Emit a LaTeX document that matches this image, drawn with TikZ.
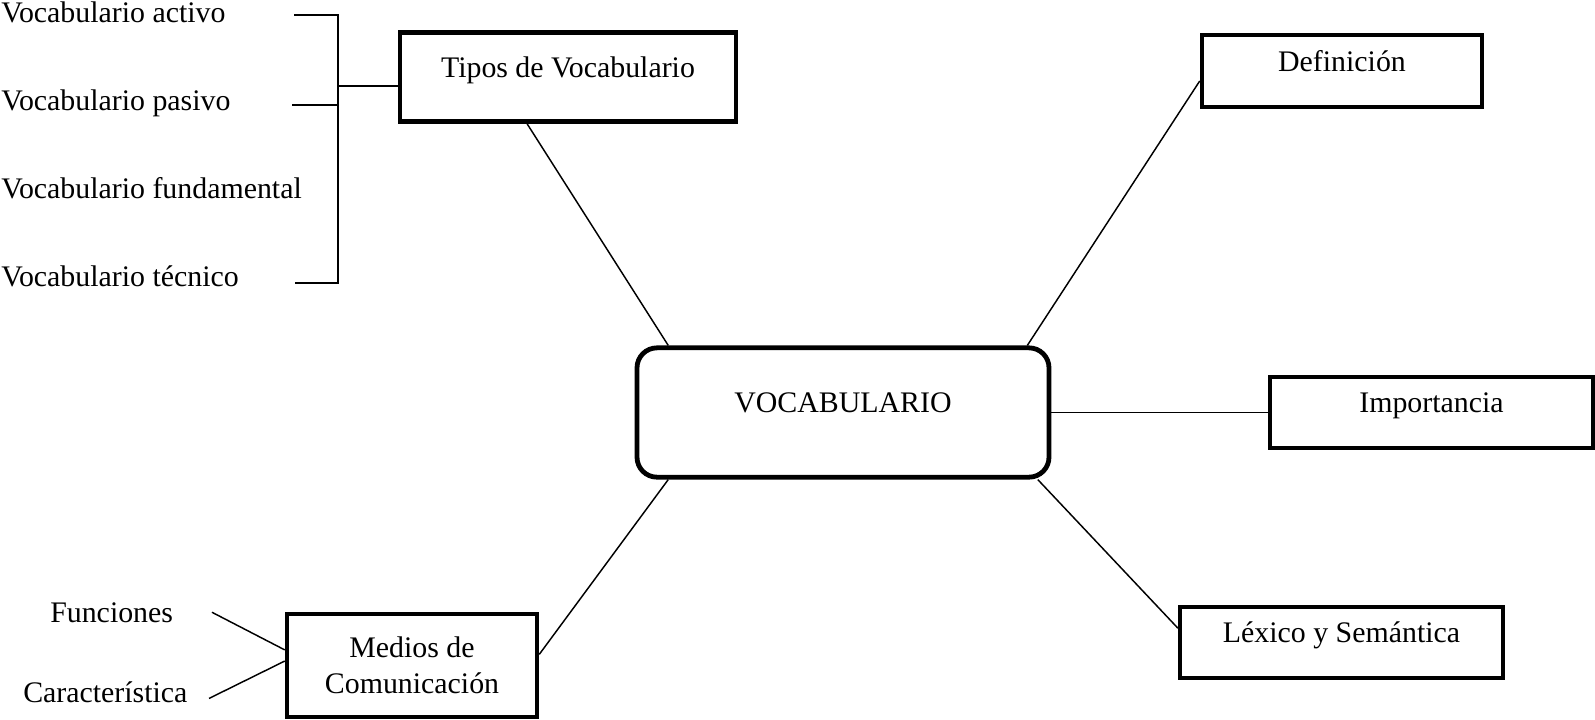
\documentclass[tikz,border=0pt]{standalone}
\usepackage{fontspec}
\setmainfont{Liberation Serif}

\tikzset{
  mapbox/.style={draw, line width=3.4pt, minimum width=#1, inner sep=0pt, text height=11pt, text depth=11pt},
  conn/.style={line width=1.1pt},
  leaf/.style={anchor=base west, inner sep=0pt}
}

\begin{document}
\begin{tikzpicture}[x=0.75pt,y=0.75pt,yscale=-1,xscale=1,font=\fontsize{22.4}{27}\selectfont]
    \useasboundingbox (0,0) rectangle (1595,719);

    % Text Node
    \node [draw, line width=3.6pt, rounded corners=15pt, minimum width=309pt, minimum height=97pt, text height=11pt, text depth=11pt] (vocab) at (843,412.5) {VOCABULARIO};
    % Text Node
    \node [mapbox=252pt, minimum height=67pt] (tipos) at (568,77) {Tipos de Vocabulario};
    % Text Node
    \node [mapbox=210pt, minimum height=54pt] (defin) at (1342,71) {Definición};
    % Text Node
    \node [mapbox=242pt, minimum height=53pt] (impor) at (1431.5,412.5) {Importancia};
    % Text Node
    \node [mapbox=242pt, minimum height=53pt] (lexico) at (1341.5,642.5) {Léxico y Semántica};
    % Text Node
    \node [draw, line width=3.4pt, minimum width=187.5pt, minimum height=77pt, align=center] (medios) at (412,665.5) {Medios de\\Comunicación};

    % Text Node
    \node [leaf] (activo) at (1,22) {Vocabulario activo};
    \node [leaf] (pasivo) at (1,110) {Vocabulario pasivo};
    \node [leaf] (fundam) at (1,198) {Vocabulario fundamental};
    \node [leaf] (tecnico) at (1,286) {Vocabulario técnico};
    \node [leaf] (funcion) at (50,622) {Funciones};
    \node [leaf] (caract) at (23,702) {Característica};

    % Connection
    \draw [conn] (tipos.229.5) -- (vocab.159);
    \draw [conn] (defin.184.1) -- (vocab.20.5);
    \draw [conn] (vocab.east) -- (impor.west);
    \draw [conn] (vocab.-19) -- (lexico.175.9);
    \draw [conn] (medios.5.7) -- (vocab.201);

    % Bracket
    \coordinate (brtop) at (338,15);
    \coordinate (brbot) at (338,283);
    \draw [conn] (294,15) -- (brtop) -- (brbot) -- (295,283);
    \draw [conn] (292,105) -- (338,105);
    \draw [conn] (tipos.183.4) -- (tipos.183.4 -| brtop);

    % Connection
    \draw [conn] ([xshift=29]funcion.east) -- (medios.173.8);
    \draw [conn] ([xshift=16,yshift=5]caract.east) -- (medios.178);

\end{tikzpicture}
\end{document}
